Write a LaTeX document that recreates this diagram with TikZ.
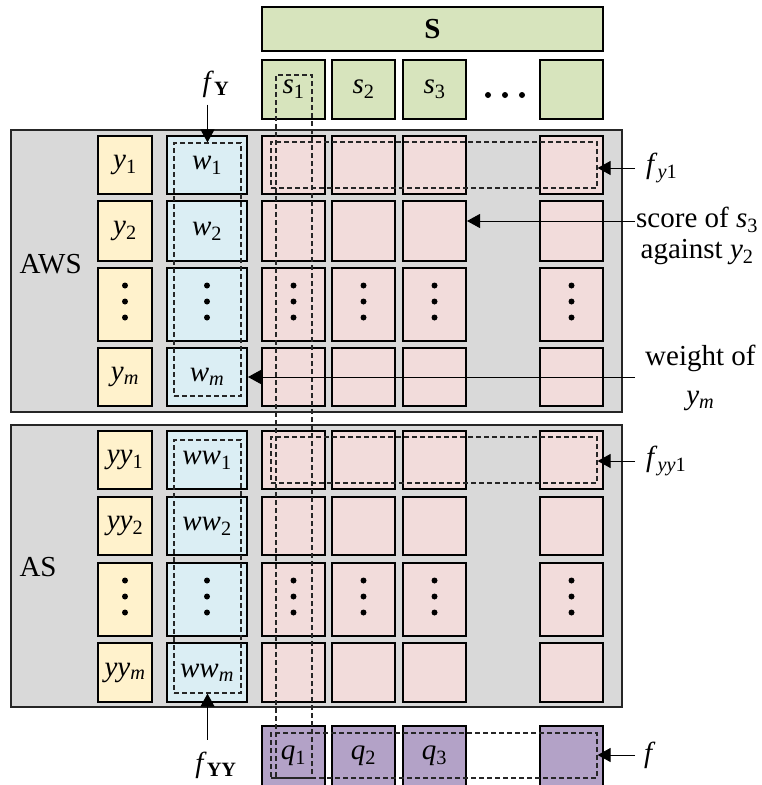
\documentclass[tikz,border=0pt]{standalone}
\usepackage{fontspec}
\setmainfont{Liberation Serif}
\usepackage{xcolor}
\usetikzlibrary{arrows.meta}

\definecolor{cgreen}{HTML}{D7E4BD}
\definecolor{cpink}{HTML}{F2DCDB}
\definecolor{cblue}{HTML}{DBEEF4}
\definecolor{cyellow}{HTML}{FFF2CC}
\definecolor{cgray}{HTML}{D9D9D9}
\definecolor{cpurple}{HTML}{B3A2C7}

\newcommand{\vsub}[2]{\textit{#1}\textsubscript{#2}}

\tikzset{
  cell/.style={draw=black, line width=2pt, inner sep=0pt},
  ycell/.style={cell, fill=cyellow, minimum width=54pt},
  wcell/.style={cell, fill=cblue, minimum width=80pt},
  pcell/.style={cell, fill=cpink, minimum width=63pt},
  scell/.style={cell, fill=cgreen, minimum width=63pt},
  qcell/.style={cell, fill=cpurple, minimum width=63pt},
  panel/.style={draw=black!85, line width=2pt, fill=cgray, inner sep=0pt},
  dbox/.style={draw=black!85, line width=1.2pt, dash pattern=on 5pt off 3pt, inner sep=0pt},
  lab/.style={anchor=west, inner ysep=1pt},
  arr/.style={-{Triangle[length=13pt,width=14pt]}, line width=1pt}
}

\begin{document}
\begin{tikzpicture}[x=1pt,y=-1pt,font=\fontsize{29}{31}\selectfont]
  \useasboundingbox (0,0) rectangle (762,785);
  \clip (0,0) rectangle (762,785);

  % Gray panels
  \node[panel, minimum width=611pt, minimum height=282pt] (aws) at (316.5,271) {};
  \node[panel, minimum width=611pt, minimum height=282pt] (as) at (316.5,566) {};
  \node[anchor=west] (lbaws) at (16,264) {AWS};
  \node[anchor=west] (lbas) at (16,567) {AS};

  % S and its columns
  \node[scell, minimum width=341pt, minimum height=44pt] (S) at (432.5,29) {\textbf{S}};
  \foreach \c/\xc/\t in {1/293.5/{\vsub{s}{1}},2/363.5/{\vsub{s}{2}},3/434.5/{\vsub{s}{3}},4/571.5/{}}
    \node[scell, minimum height=59pt] (s\c) at (\xc,89.5) {\t};
  \foreach \xd in {488,505,522}
    \fill (\xd,95) circle (3pt);

  % AWS rows
  \foreach \r/\yc/\h/\ya/\wa in {1/165/58/{\vsub{y}{1}}/{\vsub{w}{1}},
      2/231/60/{\vsub{y}{2}}/{\vsub{w}{2}}, 3/304.5/73/{}/{},
      4/377/58/{\vsub{y}{\textit{m}}}/{\vsub{w}{\textit{m}}}}
  {
    \node[ycell, minimum height=\h pt] (y\r) at (125,\yc) {\ya};
    \node[wcell, minimum height=\h pt] (w\r) at (207,\yc) {\wa};
    \foreach \c/\xc in {1/293.5,2/363.5,3/434.5,4/571.5}
      \node[pcell, minimum height=\h pt] (p\r\c) at (\xc,\yc) {};
  }

  % AS rows
  \foreach \r/\yc/\h/\ya/\wa in {1/460/58/{\vsub{yy}{1}}/{\vsub{ww}{1}},
      2/526/58/{\vsub{yy}{2}}/{\vsub{ww}{2}}, 3/599.5/73/{}/{},
      4/672.5/59/{\vsub{yy}{\textit{m}}}/{\vsub{ww}{\textit{m}}}}
  {
    \node[ycell, minimum height=\h pt] (yy\r) at (125,\yc) {\ya};
    \node[wcell, minimum height=\h pt] (ww\r) at (207,\yc) {\wa};
    \foreach \c/\xc in {1/293.5,2/363.5,3/434.5,4/571.5}
      \node[pcell, minimum height=\h pt] (pp\r\c) at (\xc,\yc) {};
  }

  % vertical dots
  \foreach \n in {y3,w3,p31,p32,p33,p34,yy3,ww3,pp31,pp32,pp33,pp34}
    \foreach \d in {-19,-3,13}
      \fill (\n.center) ++(0,\d) circle (3pt);

  % q row
  \foreach \c/\xc/\t in {1/293.5/{\vsub{q}{1}},2/363.5/{\vsub{q}{2}},3/434.5/{\vsub{q}{3}},4/571.5/{}}
    \node[qcell, minimum height=60pt] (q\c) at (\xc,756) {\t};

  % dashed groups
  \node[dbox, minimum width=67pt, minimum height=253pt] (fY) at (207.5,269.5) {};
  \node[dbox, minimum width=67pt, minimum height=253pt] (fYY) at (207.5,566.5) {};
  \node[dbox, minimum width=326pt, minimum height=46pt] (fy1) at (434,165) {};
  \node[dbox, minimum width=326pt, minimum height=46pt] (fyy1) at (434,460) {};
  \node[dbox, minimum width=326pt, minimum height=45pt] (fq) at (434,755.5) {};
  \node[dbox, minimum width=36pt, minimum height=703pt] (fs1) at (294,426.5) {};

  % labels and arrows
  \node[inner ysep=7pt] (lfY) at (216,84) {\vsub{f}{\textbf{Y}}};
  \draw[arr] (lfY.south -| fY.north) -- (fY.north);
  \node[inner ysep=12pt] (lfYY) at (216,765) {\vsub{f}{\textbf{YY}}};
  \draw[arr] (lfYY.north -| fYY.south) -- (fYY.south);

  \node[lab, inner xsep=11pt] (lfy1) at (635,168) {\vsub{f}{\textit{y}1}};
  \draw[arr] (lfy1.west) -- (lfy1.west -| fy1.east);

  \node[lab, inner xsep=1pt, align=center] (lsc) at (635,236) {score of \vsub{s}{3}\\against \vsub{y}{2}};
  \coordinate (asc) at (635,221);
  \draw[arr] (asc) -- (asc -| p23.east);

  \node[lab, inner xsep=10pt, align=center] (lwt) at (635,378) {weight of\\[8pt]\vsub{y}{\textit{m}}};
  \draw[arr] (lwt.west |- w4.east) -- (w4.east);

  \node[lab, inner xsep=11pt] (lfyy1) at (635,461) {\vsub{f}{\textit{yy}1}};
  \draw[arr] (lfyy1.west) -- (lfyy1.west -| fyy1.east);

  \node[lab, inner xsep=9pt] (lf) at (635,755) {\textit{f}};
  \draw[arr] (lf.west) -- (lf.west -| fq.east);
\end{tikzpicture}
\end{document}
